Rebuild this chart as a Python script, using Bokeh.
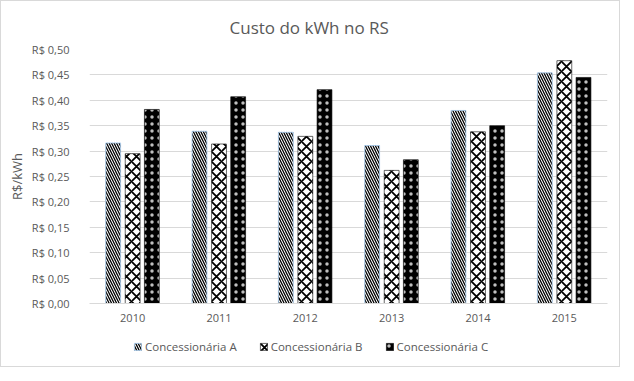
from bokeh.plotting import figure
from bokeh.layouts import column
from bokeh.models import (ColumnDataSource, FactorRange, Range1d, FixedTicker,
                          CustomJSTickFormatter, Legend, LegendItem)
from bokeh.transform import dodge
from bokeh.embed import file_html
from bokeh.resources import INLINE

# ---- data ----
years = ["2010", "2011", "2012", "2013", "2014", "2015"]
series_names = ["Concessionária A", "Concessionária B", "Concessionária C"]
conc_a = [0.316, 0.339, 0.337, 0.311, 0.380, 0.454]
conc_b = [0.295, 0.314, 0.329, 0.262, 0.338, 0.478]
conc_c = [0.382, 0.407, 0.421, 0.283, 0.350, 0.445]
y_ticks = [0.00, 0.05, 0.10, 0.15, 0.20, 0.25, 0.30, 0.35, 0.40, 0.45, 0.50]

TXT = "#595959"
FONT = "Open Sans"

STYLE_A = dict(fill_color="white", line_color="#9dc3e6", line_width=0.8,
               hatch_pattern="left_diagonal_line", hatch_scale=5, hatch_weight=1.3,
               hatch_color="black")
STYLE_B = dict(fill_color="white", line_color="black", line_width=0.6,
               hatch_pattern="diagonal_cross", hatch_scale=10, hatch_weight=1.8,
               hatch_color="black")
STYLE_C = dict(fill_color="black", line_color="black", line_width=0.6,
               hatch_pattern="dot", hatch_scale=7, hatch_weight=1,
               hatch_color="white", hatch_alpha=0.75)

source = ColumnDataSource(data=dict(year=years, a=conc_a, b=conc_b, c=conc_c))
xr = FactorRange(*years)

p = figure(x_range=xr, y_range=Range1d(0, 0.5),
           width=618, height=330, output_backend="svg", toolbar_location=None,
           min_border_left=88, min_border_right=12, min_border_top=48, min_border_bottom=28,
           title="Custo do kWh no RS")

p.title.text_font = FONT
p.title.text_font_size = "17px"
p.title.text_font_style = "normal"
p.title.text_color = TXT
p.title.align = "left"
p.title.offset = 140
p.title.standoff = 21

p.outline_line_color = None
p.background_fill_color = "white"
p.border_fill_color = "white"

p.xgrid.grid_line_color = None
p.ygrid.grid_line_color = "#d9d9d9"
p.ygrid.grid_line_width = 1

p.yaxis.ticker = FixedTicker(ticks=y_ticks)
p.yaxis.formatter = CustomJSTickFormatter(code="return 'R$ ' + tick.toFixed(2).replace('.', ',');")
p.yaxis.axis_line_color = None
p.yaxis.major_label_standoff = 20
p.yaxis.axis_label = "R$/kWh"
p.yaxis.axis_label_standoff = 3
p.yaxis.axis_label_text_font = FONT
p.yaxis.axis_label_text_font_size = "13px"
p.yaxis.axis_label_text_font_style = "normal"
p.yaxis.axis_label_text_color = TXT

p.xaxis.axis_line_color = "#d9d9d9"
p.xaxis.major_label_standoff = 10

for ax in (p.xaxis, p.yaxis):
    ax.major_tick_line_color = None
    ax.minor_tick_line_color = None
    ax.major_tick_out = 0
    ax.major_tick_in = 0
    ax.minor_tick_out = 0
    ax.minor_tick_in = 0
    ax.major_label_text_font = FONT
    ax.major_label_text_font_size = "11px"
    ax.major_label_text_color = TXT

w = 0.172
p.vbar(x=dodge("year", -0.226, range=xr), top="a", width=w, source=source, **STYLE_A)
p.vbar(x=dodge("year", 0.0, range=xr), top="b", width=w, source=source, **STYLE_B)
p.vbar(x=dodge("year", 0.222, range=xr), top="c", width=w, source=source, **STYLE_C)

# ---- legend strip below the chart (bars here lie outside its visible range) ----
lf = figure(width=618, height=35, output_backend="svg", toolbar_location=None,
            x_range=xr, y_range=Range1d(1, 2),
            min_border=0, x_axis_type=None, y_axis_type=None)
lf.outline_line_color = None
lf.grid.visible = False
la = lf.vbar(x="year", top="a", width=w, source=source, **STYLE_A)
lb = lf.vbar(x="year", top="b", width=w, source=source, **STYLE_B)
lc = lf.vbar(x="year", top="c", width=w, source=source, **STYLE_C)

legend = Legend(items=[LegendItem(label=series_names[0], renderers=[la]),
                       LegendItem(label=series_names[1], renderers=[lb]),
                       LegendItem(label=series_names[2], renderers=[lc])],
                orientation="horizontal", location=(44, 12))
legend.border_line_color = None
legend.background_fill_alpha = 0
legend.label_text_font = FONT
legend.label_text_font_size = "11.5px"
legend.label_text_color = TXT
legend.glyph_width = 9
legend.glyph_height = 9
legend.spacing = 22
legend.padding = 0
legend.margin = 0
legend.label_standoff = 3
lf.add_layout(legend, "center")

layout = column(p, lf, spacing=0, styles={"border": "1px solid #d9d9d9"})

open("out.html", "w").write(file_html(layout, INLINE))
